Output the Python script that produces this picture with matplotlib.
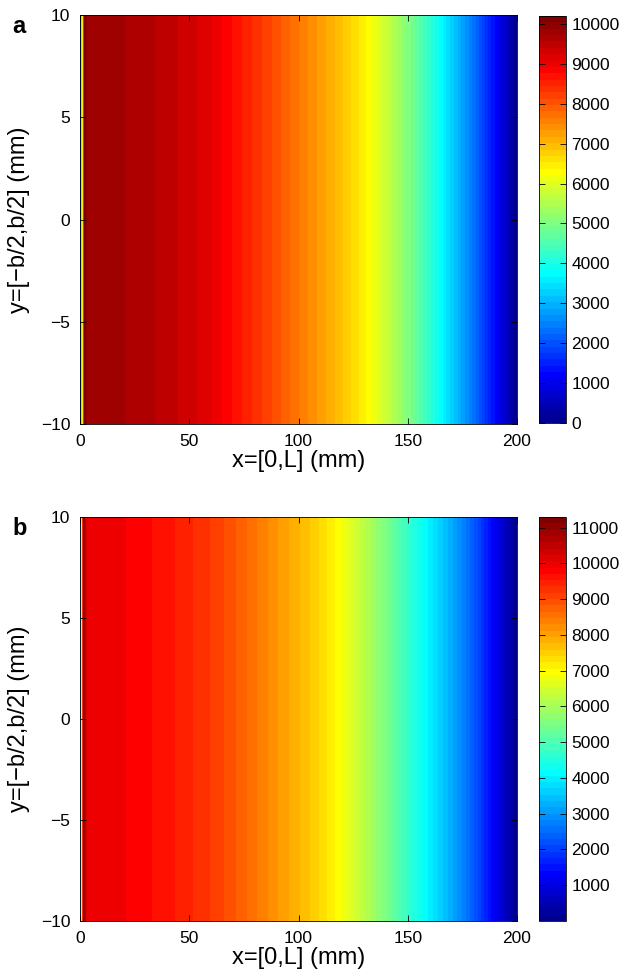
import numpy as np
import matplotlib
matplotlib.use("Agg")
import matplotlib.pyplot as plt
from matplotlib.colors import ListedColormap, Normalize
from matplotlib.cm import ScalarMappable

plt.rcParams['font.family'] = ['Liberation Sans', 'DejaVu Sans']

# ---------------- data ----------------
x_a = [0, 2, 3.5, 10, 20, 30, 40, 50, 60, 70, 80, 90, 100, 110, 120, 130,
       140, 150, 160, 170, 180, 190, 200]
val_a = [1500, 10200, 9850, 9830, 9730, 9620, 9480, 9320, 9100, 8750, 8400,
         8050, 7650, 7270, 6880, 6420, 5800, 5050, 4200, 3300, 2350, 1250, 0]

x_b = [0, 1.5, 3, 10, 20, 30, 40, 50, 60, 70, 80, 90, 100, 110, 120, 130,
       140, 150, 160, 170, 180, 190, 200]
val_b = [2500, 11300, 10050, 10000, 9900, 9760, 9600, 9400, 9170, 8880, 8520,
         8140, 7800, 7400, 6880, 6250, 5500, 4750, 4000, 3250, 2350, 1200, 0]

y_edges = [-10, 10]
clim_a = (0, 10200)
clim_b = (0, 11300)
cbar_ticks_a = [0, 1000, 2000, 3000, 4000, 5000, 6000, 7000, 8000, 9000, 10000]
cbar_ticks_b = [1000, 2000, 3000, 4000, 5000, 6000, 7000, 8000, 9000, 10000, 11000]
x_ticks = [0, 50, 100, 150, 200]
y_ticks = [-10, -5, 0, 5, 10]
panel_labels = ['a', 'b']
xlabel = 'x=[0,L] (mm)'
ylabel = 'y=[\u2212b/2,b/2] (mm)'


# ---------------- MATLAB-style jet(64) ----------------
def matlab_jet(m=64):
    n = int(np.ceil(m / 4))
    u = np.concatenate([np.arange(1, n + 1) / n, np.ones(n - 1), np.arange(n, 0, -1) / n])
    g = int(np.ceil(n / 2)) - (1 if m % 4 == 1 else 0) + np.arange(1, len(u) + 1)
    r = g + n
    b = g - n
    J = np.zeros((m, 3))
    mr = r <= m
    J[r[mr] - 1, 0] = u[mr]
    mg = g <= m
    J[g[mg] - 1, 1] = u[mg]
    mb = b > 0
    J[b[mb] - 1, 2] = u[mb]
    return ListedColormap(J)


cmap = matlab_jet(64)

fig = plt.figure(figsize=(6.24, 9.74), dpi=100)
W, H = 624, 974


def ax_rect(l, t, r, b):
    return [l / W, 1 - b / H, (r - l) / W, (b - t) / H]


panels = [
    (x_a, val_a, clim_a, cbar_ticks_a, (80, 15, 517, 424), (539, 16, 566, 423)),
    (x_b, val_b, clim_b, cbar_ticks_b, (80, 517, 517, 921), (539, 517, 566, 921)),
]

TICK_FS = 12.5
LABEL_FS = 17

for i, (xs, vs, clim, cticks, arect, crect) in enumerate(panels):
    ax = fig.add_axes(ax_rect(*arect))
    X, Y = np.meshgrid(np.asarray(xs, float), np.asarray(y_edges, float))
    Z = np.tile(np.asarray(vs, float), (2, 1))
    levels = np.linspace(clim[0], clim[1], 65)
    ax.contourf(X, Y, Z, levels=levels, cmap=cmap,
                norm=Normalize(*clim), antialiased=False)
    ax.set_xlim(0, 200)
    ax.set_ylim(-10, 10)
    ax.set_xticks(x_ticks)
    ax.set_yticks(y_ticks)
    ax.set_xticklabels([str(t) for t in x_ticks])
    ax.set_yticklabels([str(t).replace('-', '\u2212') for t in y_ticks])
    ax.tick_params(direction='in', length=4, width=0.6, labelsize=TICK_FS,
                   top=True, right=True)
    ax.tick_params(axis='x', pad=7)
    ax.tick_params(axis='y', pad=7)
    for s in ax.spines.values():
        s.set_linewidth(0.6)
    ax.set_xlabel(xlabel, fontsize=LABEL_FS, labelpad=1)
    ax.set_ylabel(ylabel, fontsize=LABEL_FS, labelpad=8)
    ax.text(-0.155, 1.0, panel_labels[i], transform=ax.transAxes,
            fontsize=17, fontweight='bold', va='top', ha='left')

    cax = fig.add_axes(ax_rect(*crect))
    sm = ScalarMappable(norm=Normalize(*clim), cmap=cmap)
    cb = fig.colorbar(sm, cax=cax)
    cb.set_ticks(cticks)
    cb.set_ticklabels([str(t) for t in cticks])
    cb.outline.set_linewidth(0.6)
    cax.tick_params(direction='in', length=4, width=0.6, labelsize=TICK_FS,
                    left=True, right=True, pad=4)

fig.savefig('out.png', dpi=100)
